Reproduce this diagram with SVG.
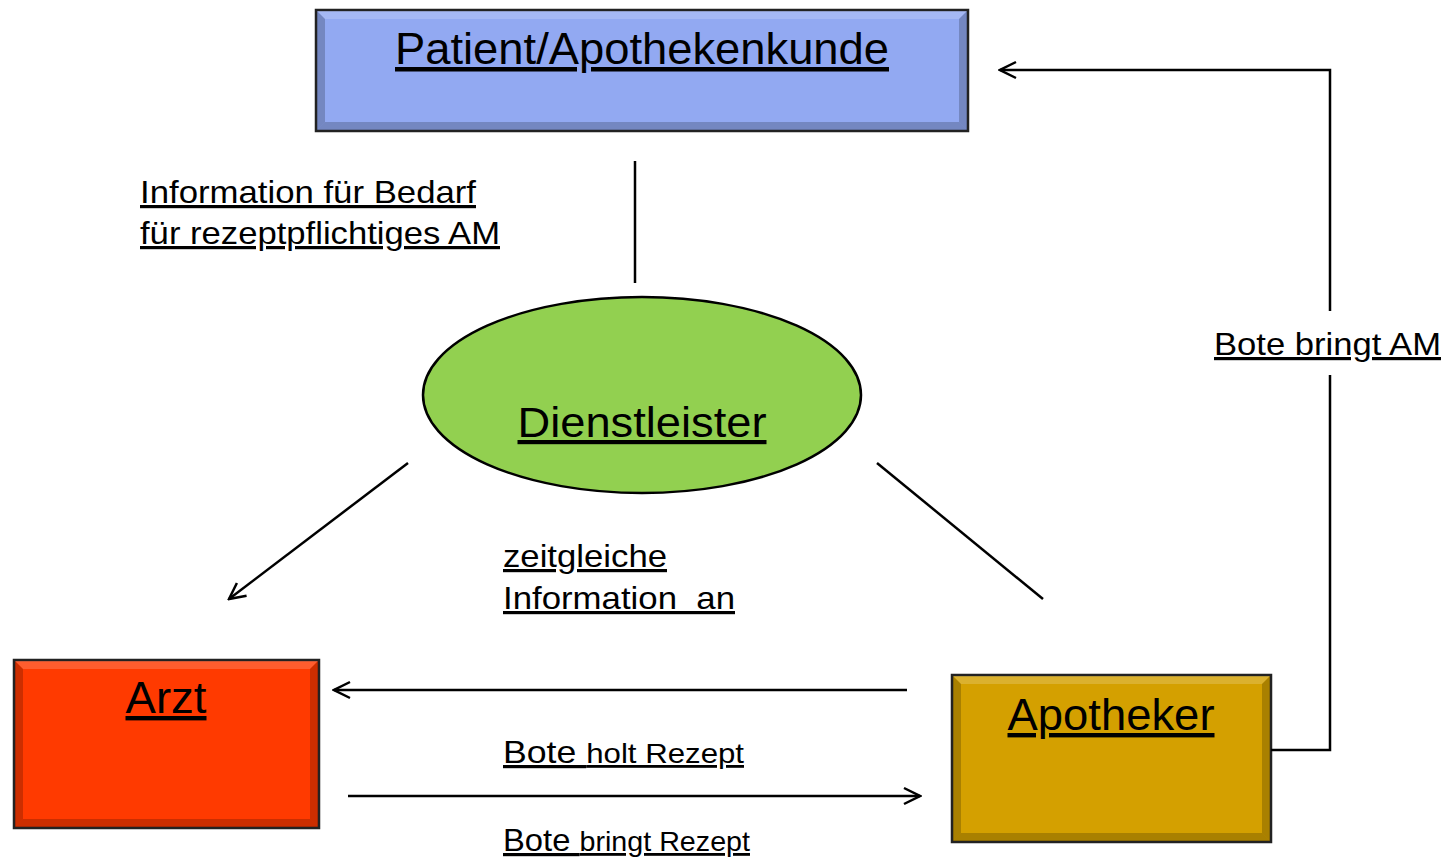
<svg xmlns="http://www.w3.org/2000/svg" width="1450" height="859" viewBox="0 0 1450 859">
<defs>
<style>
.t{font-family:"Liberation Sans",Arial,sans-serif;fill:#000;text-decoration:underline;}
.c{stroke:#000;stroke-width:2.5;fill:none;}
.box{stroke:#222;stroke-width:2.5;}
.hl{fill:#fff;opacity:0.18;}
.sh{fill:#000;opacity:0.2;}
</style>
<marker id="arr" viewBox="0 0 20 20" refX="18" refY="10" markerWidth="20" markerHeight="20" markerUnits="userSpaceOnUse" orient="auto">
<path d="M2,2 L18,10 L2,18" fill="none" stroke="#000" stroke-width="2.5"/>
</marker>
</defs>
<rect width="1450" height="859" fill="#fff"/>

<g id="patient">
<rect x="316" y="10" width="652" height="121" fill="#92A9F2" class="box"/>
<polygon class="hl" points="317,11 967,11 959,19 325,19"/>
<polygon class="sh" points="967,11 967,130 959,122 959,19"/>
<polygon class="sh" points="317,130 967,130 959,122 325,122"/>
<polygon class="sh" points="317,11 325,19 325,122 317,130" opacity="0.08"/>
<text class="t" x="642" y="64" font-size="45" text-anchor="middle" textLength="494" lengthAdjust="spacingAndGlyphs">Patient/Apothekenkunde</text>
</g>

<g id="dienstleister">
<ellipse cx="642" cy="395" rx="219" ry="98" fill="#92D050" stroke="#000" stroke-width="2.5"/>
<text class="t" x="642" y="437" font-size="42" text-anchor="middle" textLength="249" lengthAdjust="spacingAndGlyphs">Dienstleister</text>
</g>

<g id="arzt">
<rect x="14" y="660" width="305" height="168" fill="#FF3A00" class="box"/>
<polygon class="hl" points="15,661 318,661 310,669 23,669"/>
<polygon class="sh" points="318,661 318,827 310,819 310,669"/>
<polygon class="sh" points="15,827 318,827 310,819 23,819"/>
<polygon class="sh" points="15,661 23,669 23,819 15,827" opacity="0.08"/>
<text class="t" x="166" y="713" font-size="44" text-anchor="middle" textLength="81" lengthAdjust="spacingAndGlyphs">Arzt</text>
</g>

<g id="apotheker">
<rect x="952" y="675" width="319" height="167" fill="#D4A000" class="box"/>
<polygon class="hl" points="953,676 1270,676 1262,684 961,684"/>
<polygon class="sh" points="1270,676 1270,841 1262,833 1262,684"/>
<polygon class="sh" points="953,841 1270,841 1262,833 961,833"/>
<polygon class="sh" points="953,676 961,684 961,833 953,841" opacity="0.08"/>
<text class="t" x="1111" y="730" font-size="44" text-anchor="middle" textLength="207" lengthAdjust="spacingAndGlyphs">Apotheker</text>
</g>

<g id="connectors">
<line class="c" x1="635" y1="161" x2="635" y2="283"/>
<line class="c" x1="408" y1="463" x2="229" y2="599" marker-end="url(#arr)"/>
<line class="c" x1="877" y1="463" x2="1043" y2="599"/>
<line class="c" x1="907" y1="690" x2="334" y2="690" marker-end="url(#arr)"/>
<line class="c" x1="348" y1="796" x2="920" y2="796" marker-end="url(#arr)"/>
<polyline class="c" points="1271,750 1330,750 1330,375"/>
<polyline class="c" points="1330,311 1330,70 1000,70" marker-end="url(#arr)"/>
</g>

<g id="labels">
<text class="t" x="140" y="203" font-size="32" textLength="336" lengthAdjust="spacingAndGlyphs">Information für Bedarf</text>
<text class="t" x="140" y="244" font-size="32" textLength="360" lengthAdjust="spacingAndGlyphs">für rezeptpflichtiges AM</text>
<text class="t" x="503" y="567" font-size="32" textLength="164" lengthAdjust="spacingAndGlyphs">zeitgleiche</text>
<text class="t" x="503" y="609" font-size="32" textLength="232" lengthAdjust="spacingAndGlyphs" xml:space="preserve">Information  an</text>
<text class="t" x="503" y="763" font-size="32" textLength="241" lengthAdjust="spacingAndGlyphs">Bote <tspan font-size="28">holt Rezept</tspan></text>
<text class="t" x="503" y="851" font-size="32" textLength="247" lengthAdjust="spacingAndGlyphs">Bote <tspan font-size="28">bringt Rezept</tspan></text>
<text class="t" x="1214" y="355" font-size="32" textLength="227" lengthAdjust="spacingAndGlyphs">Bote bringt AM</text>
</g>
</svg>
